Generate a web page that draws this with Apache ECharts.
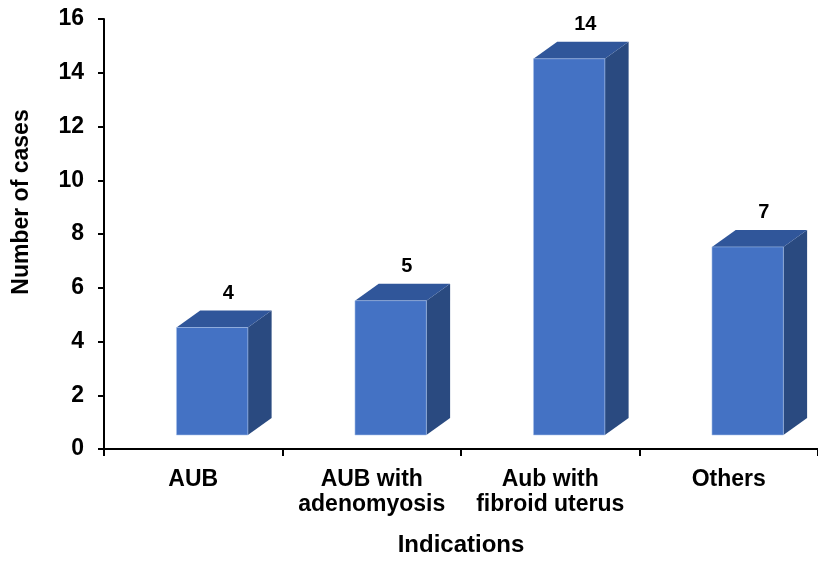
<!DOCTYPE html>
<html>
<head>
<meta charset="utf-8">
<script src="https://cdn.jsdelivr.net/npm/echarts@6/dist/echarts.min.js"></script>
<style>
  html, body { margin: 0; padding: 0; background: #fff; }
  #chart { width: 818px; height: 562px; }
</style>
</head>
<body>
<div id="chart"></div>
<script>
// Indications and how many cases fall under each
const categories = ['AUB', 'AUB with\nadenomyosis', 'Aub with\nfibroid uterus', 'Others'];
const cases = [4, 5, 14, 7];
const yTicks = { min: 0, max: 16, interval: 2 };
const xTitle = 'Indications';
const yTitle = 'Number of cases';

const FONT = '"Liberation Sans", Arial, sans-serif';
const FRONT = '#4472C4';
const TOP = '#30569A';
const SIDE = '#2A4A80';

const chart = echarts.init(document.getElementById('chart'), null, { renderer: 'canvas' });

// Pseudo-3D column: front face, top face and right side face
function renderBox(params, api) {
  const idx = api.value(0);
  const val = api.value(1);
  const base = api.coord([idx, 0]);
  const top = api.coord([idx, val]);
  const band = api.size([1, 0])[0];
  const lift = 14;
  const dx = band * 0.133;
  const dy = 17;
  const fw = band * 0.4;
  const fl = base[0] - band * 0.094;
  const yb = base[1] - lift;
  const yt = top[1] - lift;
  return {
    type: 'group',
    children: [
      {
        type: 'polygon',
        shape: { points: [[fl + fw, yt], [fl + fw + dx, yt - dy], [fl + fw + dx, yb - dy], [fl + fw, yb]] },
        style: { fill: SIDE }
      },
      {
        type: 'polygon',
        shape: { points: [[fl, yt], [fl + dx, yt - dy], [fl + fw + dx, yt - dy], [fl + fw, yt]] },
        style: { fill: TOP }
      },
      {
        type: 'rect',
        shape: { x: fl, y: yt, width: fw, height: yb - yt },
        style: { fill: FRONT, stroke: 'rgba(170,195,235,0.7)', lineWidth: 0.8 }
      },
      {
        type: 'text',
        x: base[0] + 35,
        y: yt - dy - 17,
        style: {
          text: String(val),
          fill: '#000',
          font: 'bold 20px ' + FONT,
          align: 'center',
          verticalAlign: 'middle'
        }
      }
    ]
  };
}

chart.setOption({
  animation: false,
  backgroundColor: '#fff',
  grid: { left: 104, top: 19, bottom: 108, width: 720 },
  xAxis: {
    type: 'category',
    data: categories,
    boundaryGap: true,
    name: xTitle,
    nameLocation: 'middle',
    nameGap: 84,
    nameTextStyle: { color: '#000', fontWeight: 'bold', fontSize: 24, fontFamily: FONT },
    axisLine: { lineStyle: { color: '#000', width: 2 } },
    axisTick: { show: true, length: 7, interval: 0, lineStyle: { color: '#000', width: 2 } },
    axisLabel: {
      interval: 0,
      margin: 18,
      color: '#000',
      fontWeight: 'bold',
      fontSize: 23,
      lineHeight: 25,
      fontFamily: FONT
    },
    splitLine: { show: false }
  },
  yAxis: {
    type: 'value',
    min: yTicks.min,
    max: yTicks.max,
    interval: yTicks.interval,
    axisLine: { show: true, lineStyle: { color: '#000', width: 2 } },
    axisTick: { show: true, length: 6, lineStyle: { color: '#000', width: 2 } },
    axisLabel: {
      margin: 20,
      color: '#000',
      fontWeight: 'bold',
      fontSize: 23,
      fontFamily: FONT
    },
    splitLine: { show: false }
  },
  graphic: [{
    type: 'text',
    x: 22,
    y: 202,
    rotation: Math.PI / 2,
    style: {
      text: yTitle,
      fill: '#000',
      font: 'bold 23px ' + FONT,
      align: 'center',
      verticalAlign: 'middle'
    }
  }],
  series: [{
    type: 'custom',
    renderItem: renderBox,
    encode: { x: 0, y: 1 },
    data: cases.map((v, i) => [i, v])
  }]
});
</script>
</body>
</html>
